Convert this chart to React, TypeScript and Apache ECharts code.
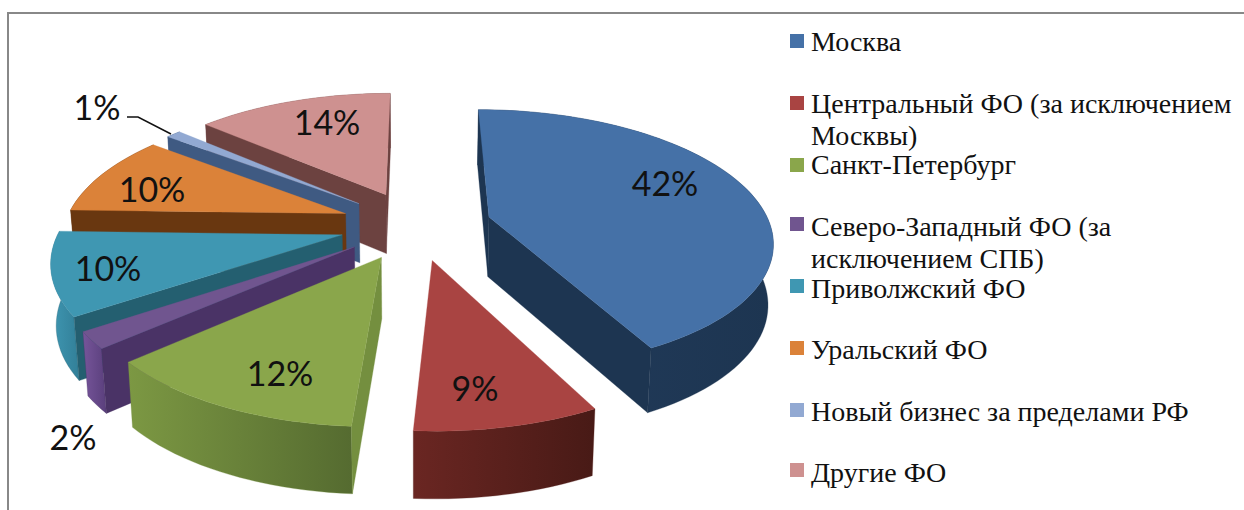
import React, { useEffect, useRef } from "react";
import * as echarts from "echarts";

const categories = [
  "Москва",
  "Центральный ФО (за исключением\nМосквы)",
  "Санкт-Петербург",
  "Северо-Западный ФО (за\nисключением СПБ)",
  "Приволжский ФО",
  "Уральский ФО",
  "Новый бизнес за пределами РФ",
  "Другие ФО",
];
const shares = [42.45, 8.55, 12.45, 2, 10, 10, 1, 13.55];

const topColors = ["#4571A7", "#A94442", "#8AA64B", "#70558F", "#3F97B2", "#DB8239", "#92A9D2", "#CE9190"];
const wallColors = ["#1D3551", "#5A2320", "#748F3F", "#4A3366", "#245F70", "#693710", "#3F5A82", "#6C4240"];
const rimLeft = ["#223C5C", "#6A2622", "#7C9843", "#76559A", "#3F97B2", "#693710", "#3F5A82", "#6C4240"];
const rimRight = ["#1D3551", "#481A16", "#556B30", "#5A3F7C", "#327F98", "#693710", "#3F5A82", "#6C4240"];

const legendBaselines = [51, 113, 174, 236, 298, 359, 421, 482];
const legendSquares = [34, 96, 158, 217, 279, 341, 403, 463];
const labelCenters = [
  [665, 182],
  [475, 387],
  [280, 372],
  [73, 436],
  [108, 267],
  [152, 188],
  [97, 106],
  [327, 121],
];
const leader = [
  [127, 117],
  [138, 117],
  [171, 134],
];

const CX = 416;
const CY = 225;
const RX = 281;
const RY = 128;
const PERSP = 0.17;
const EXPLODE = 0.27;
const DEPTH = 60;
const BOTTOM_X = 0.985;

const rad = (d: number) => (d * Math.PI) / 180;

type Pt = number[];
function project(midDeg: number, angDeg: number, r: number) {
  const X = EXPLODE * Math.sin(rad(midDeg)) + r * Math.sin(rad(angDeg));
  const Y = -EXPLODE * Math.cos(rad(midDeg)) - r * Math.cos(rad(angDeg));
  const s = 1 / (1 - PERSP * Y);
  const x = CX + RX * X * s;
  const y = CY + RY * Y * s;
  const top: Pt = [x, y];
  const bottom: Pt = [CX + (x - CX) * BOTTOM_X, y + DEPTH * Math.sqrt(s)];
  return { top, bottom };
}

const starts: number[] = [];
shares.reduce((acc, v, i) => {
  starts[i] = acc;
  return acc + v;
}, 0);

const midOf = (i: number) => ((starts[i] + shares[i] / 2) / 100) * 360;
const drawOrder = shares.map((_, i) => i).sort((a, b) => -Math.cos(rad(midOf(a))) + Math.cos(rad(midOf(b))));

function wallVisible(a: ReturnType<typeof project>, o: ReturnType<typeof project>, m: Pt) {
  const v = [o.top[0] - a.top[0], o.top[1] - a.top[1]];
  const off = [
    (a.bottom[0] - a.top[0] + o.bottom[0] - o.top[0]) / 2,
    (a.bottom[1] - a.top[1] + o.bottom[1] - o.top[1]) / 2,
  ];
  const crossOff = v[0] * off[1] - v[1] * off[0];
  const crossIn = v[0] * (m[1] - a.top[1]) - v[1] * (m[0] - a.top[0]);
  return crossOff * crossIn < 0;
}

function renderSlice(_params: any, api: any) {
  const i = api.value(1) as number;
  const share = api.value(0) as number;
  const a0 = (starts[i] / 100) * 360;
  const a1 = a0 + (share / 100) * 360;
  const mid = (a0 + a1) / 2;
  const apex = project(mid, 0, 0);
  const steps = Math.max(4, Math.ceil((a1 - a0) / 2));
  const arc = Array.from({ length: steps + 1 }, (_, k) => project(mid, a0 + ((a1 - a0) * k) / steps, 1));
  const topPts: Pt[] = [apex.top, ...arc.map((p) => p.top)];
  const rimPts: Pt[] = [...arc.map((p) => p.top), ...arc.map((p) => p.bottom).reverse()];
  const midArc = project(mid, mid, 1).top;
  const children: any[] = [];
  children.push({
    type: "polygon",
    shape: { points: rimPts },
    style: {
      fill: new echarts.graphic.LinearGradient(0, 0, 1, 0, [
        { offset: 0, color: rimLeft[i] },
        { offset: 1, color: rimRight[i] },
      ]),
      stroke: wallColors[i],
      lineWidth: 0.3,
    },
  });
  [arc[0], arc[arc.length - 1]].forEach((o) => {
    if (wallVisible(apex, o, midArc)) {
      children.push({
        type: "polygon",
        shape: { points: [apex.top, o.top, o.bottom, apex.bottom] },
        style: { fill: wallColors[i], stroke: wallColors[i], lineWidth: 0.3 },
      });
    }
  });
  children.push({
    type: "polygon",
    shape: { points: topPts },
    style: { fill: topColors[i], stroke: topColors[i], lineWidth: 0.3 },
  });
  return { type: "group", children };
}

const SERIF = '"Liberation Serif", serif';

export default function App() {
  const ref = useRef<HTMLDivElement>(null);
  useEffect(() => {
    if (!ref.current) return;
    const chart = echarts.init(ref.current, undefined, { renderer: "svg" });
    const legendItems: any[] = [];
    categories.forEach((name, i) => {
      legendItems.push({
        type: "rect",
        shape: { x: 790, y: legendSquares[i], width: 14, height: 14 },
        style: { fill: topColors[i] },
        z: 10,
      });
      legendItems.push({
        type: "text",
        x: 811,
        y: legendBaselines[i] - 26,
        style: {
          text: name,
          font: `28px ${SERIF}`,
          fill: "#111111",
          lineHeight: 32,
          align: "left",
          verticalAlign: "top",
        },
        z: 10,
      });
    });
    const labels = shares.map((v, i) => ({
      type: "text",
      x: labelCenters[i][0],
      y: labelCenters[i][1],
      style: {
        text: `${Math.round(v)}%`,
        font: "34px Lato, sans-serif",
        fill: "#111111",
        align: "center",
        verticalAlign: "middle",
      },
      z: 20,
    }));
    chart.setOption({
      animation: false,
      backgroundColor: "#ffffff",
      series: [
        {
          type: "custom",
          coordinateSystem: "none",
          renderItem: renderSlice,
          data: drawOrder.map((i) => [shares[i], i]),
          silent: true,
        },
      ],
      graphic: [
        { type: "line", shape: { x1: 7, y1: 13, x2: 1244, y2: 13 }, style: { stroke: "#888888", lineWidth: 2 } },
        { type: "line", shape: { x1: 8, y1: 13, x2: 8, y2: 510 }, style: { stroke: "#888888", lineWidth: 2 } },
        { type: "polyline", shape: { points: leader }, style: { stroke: "#111111", lineWidth: 1.5, fill: "none" }, z: 20 },
        ...legendItems,
        ...labels,
      ],
    });
    return () => chart.dispose();
  }, []);
  return <div ref={ref} style={{ position: "fixed", left: 0, top: 0, width: 1244, height: 510 }} />;
}
